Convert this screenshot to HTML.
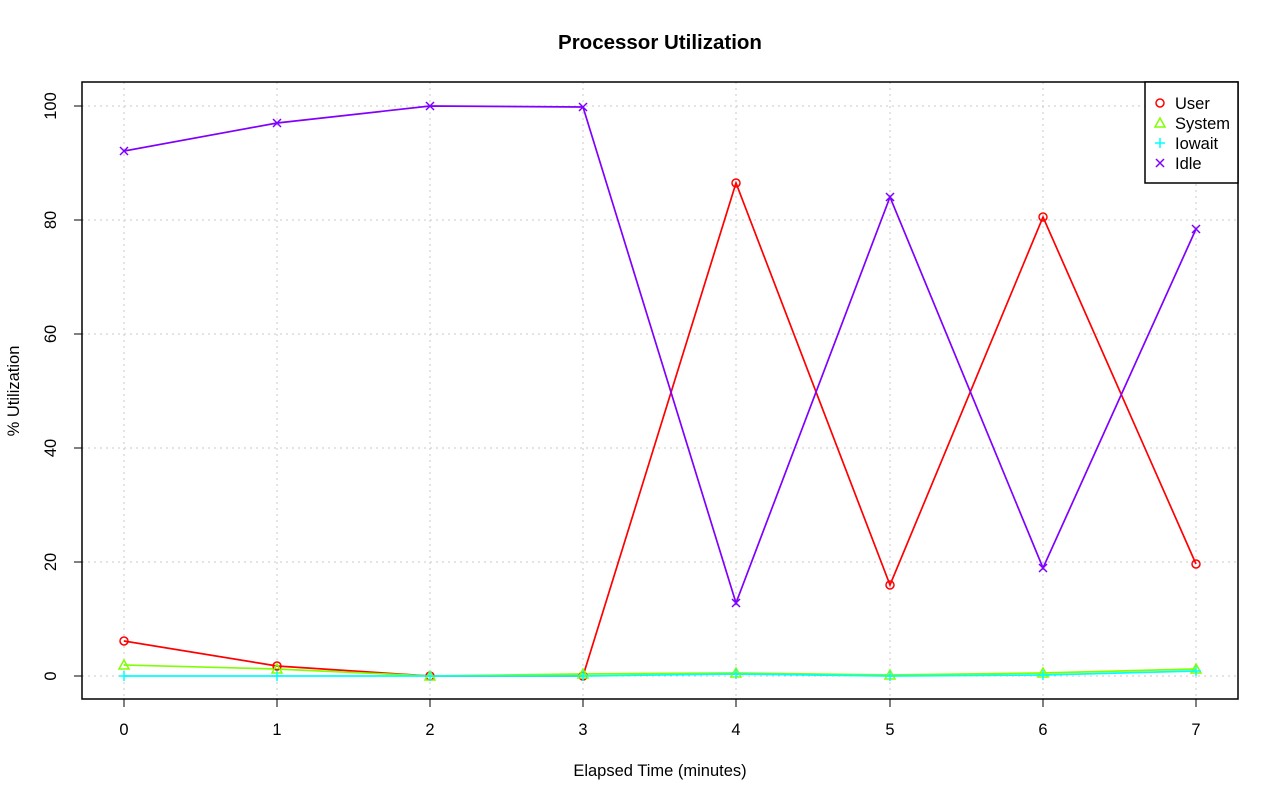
<!DOCTYPE html>
<html><head><meta charset="utf-8"><style>body{margin:0;background:#fff}</style></head><body>
<svg width="1280" height="801" xmlns="http://www.w3.org/2000/svg" font-family="Liberation Sans, sans-serif">
<rect width="1280" height="801" fill="#fff"/>
<text x="660" y="49" text-anchor="middle" font-size="20.5" font-weight="bold">Processor Utilization</text>
<g stroke="#c8c8c8" stroke-dasharray="2,4" stroke-width="1">
<line x1="124" y1="82" x2="124" y2="699"/><line x1="277" y1="82" x2="277" y2="699"/><line x1="430" y1="82" x2="430" y2="699"/><line x1="583" y1="82" x2="583" y2="699"/><line x1="736" y1="82" x2="736" y2="699"/><line x1="890" y1="82" x2="890" y2="699"/><line x1="1043" y1="82" x2="1043" y2="699"/><line x1="1196" y1="82" x2="1196" y2="699"/>
<line x1="82" y1="676" x2="1238" y2="676"/><line x1="82" y1="562" x2="1238" y2="562"/><line x1="82" y1="448" x2="1238" y2="448"/><line x1="82" y1="334" x2="1238" y2="334"/><line x1="82" y1="220" x2="1238" y2="220"/><line x1="82" y1="106" x2="1238" y2="106"/>
</g>
<rect x="82" y="82" width="1156" height="617" fill="none" stroke="#000" stroke-width="1.5"/>
<g stroke="#000">
<line x1="124" y1="699" x2="1196" y2="699"/>
<line x1="124" y1="699" x2="124" y2="707"/><line x1="277" y1="699" x2="277" y2="707"/><line x1="430" y1="699" x2="430" y2="707"/><line x1="583" y1="699" x2="583" y2="707"/><line x1="736" y1="699" x2="736" y2="707"/><line x1="890" y1="699" x2="890" y2="707"/><line x1="1043" y1="699" x2="1043" y2="707"/><line x1="1196" y1="699" x2="1196" y2="707"/>
<line x1="82" y1="106" x2="82" y2="676"/>
<line x1="74" y1="676" x2="82" y2="676"/><line x1="74" y1="562" x2="82" y2="562"/><line x1="74" y1="448" x2="82" y2="448"/><line x1="74" y1="334" x2="82" y2="334"/><line x1="74" y1="220" x2="82" y2="220"/><line x1="74" y1="106" x2="82" y2="106"/>
</g>
<g font-size="16.5" text-anchor="middle">
<text x="124" y="735">0</text><text x="277" y="735">1</text><text x="430" y="735">2</text><text x="583" y="735">3</text><text x="736" y="735">4</text><text x="890" y="735">5</text><text x="1043" y="735">6</text><text x="1196" y="735">7</text>
<text transform="translate(56,676) rotate(-90)">0</text><text transform="translate(56,562) rotate(-90)">20</text><text transform="translate(56,448) rotate(-90)">40</text><text transform="translate(56,334) rotate(-90)">60</text><text transform="translate(56,220) rotate(-90)">80</text><text transform="translate(56,106) rotate(-90)">100</text>
<text x="660" y="776">Elapsed Time (minutes)</text>
<text transform="translate(19,391) rotate(-90)">% Utilization</text>
</g>
<g fill="none" stroke-width="1.7">
<polyline stroke="#ff0000" points="124,641 277,666 430,676 583,676 736,183 890,585 1043,217 1196,564"/>
<polyline stroke="#80ff00" points="124,665 277,669 430,676 583,674 736,673 890,675 1043,673 1196,669"/>
<polyline stroke="#00ffff" points="124,676 277,676 430,676 583,676 736,674 890,676 1043,675 1196,671"/>
<polyline stroke="#8000ff" points="124,151 277,123 430,106 583,107 736,603 890,197 1043,568 1196,229"/>
</g>
<g fill="none" stroke="#ff0000" stroke-width="1.5">
<circle cx="124" cy="641" r="4"/><circle cx="277" cy="666" r="4"/><circle cx="430" cy="676" r="4"/><circle cx="583" cy="676" r="4"/><circle cx="736" cy="183" r="4"/><circle cx="890" cy="585" r="4"/><circle cx="1043" cy="217" r="4"/><circle cx="1196" cy="564" r="4"/>
</g>
<g fill="none" stroke="#80ff00" stroke-width="1.5">
<path d="M124,660l5,9h-10z"/><path d="M277,664l5,9h-10z"/><path d="M430,671l5,9h-10z"/><path d="M583,669l5,9h-10z"/><path d="M736,668l5,9h-10z"/><path d="M890,670l5,9h-10z"/><path d="M1043,668l5,9h-10z"/><path d="M1196,664l5,9h-10z"/>
</g>
<g stroke="#00ffff" stroke-width="1.5">
<path d="M119,676h10M124,671v10M272,676h10M277,671v10M425,676h10M430,671v10M578,676h10M583,671v10M731,674h10M736,669v10M885,676h10M890,671v10M1038,675h10M1043,670v10M1191,671h10M1196,666v10"/>
</g>
<g stroke="#8000ff" stroke-width="1.5">
<path d="M120,147l8,8m0,-8l-8,8M273,119l8,8m0,-8l-8,8M426,102l8,8m0,-8l-8,8M579,103l8,8m0,-8l-8,8M732,599l8,8m0,-8l-8,8M886,193l8,8m0,-8l-8,8M1039,564l8,8m0,-8l-8,8M1192,225l8,8m0,-8l-8,8"/>
</g>
<rect x="1145" y="82" width="93" height="101" fill="#fff" stroke="#000" stroke-width="1.5"/>
<circle cx="1160" cy="103" r="4" fill="none" stroke="#ff0000" stroke-width="1.5"/>
<path d="M1160,118l5,9h-10z" fill="none" stroke="#80ff00" stroke-width="1.5"/>
<path d="M1155,143h10M1160,138v10" stroke="#00ffff" stroke-width="1.5"/>
<path d="M1156,159l8,8m0,-8l-8,8" stroke="#8000ff" stroke-width="1.5"/>
<g font-size="16.5"><text x="1175" y="109">User</text><text x="1175" y="129">System</text><text x="1175" y="149">Iowait</text><text x="1175" y="169">Idle</text></g>
</svg>
</body></html>
